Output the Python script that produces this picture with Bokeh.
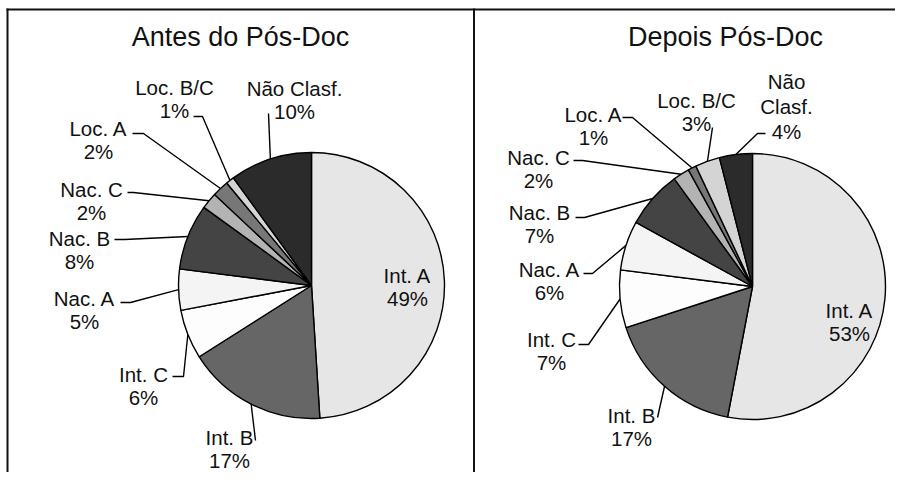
import math
from bokeh.plotting import figure
from bokeh.models import Range1d, ColumnDataSource
from bokeh.core.properties import value
from bokeh.embed import file_html
from bokeh.resources import INLINE

# ---------------- data ----------------
categories = ["Int. A", "Int. B", "Int. C", "Nac. A", "Nac. B", "Nac. C",
              "Loc. A", "Loc. B/C", "Não Clasf."]
antes = [49, 17, 6, 5, 8, 2, 2, 1, 10]
depois = [53, 17, 7, 6, 7, 2, 1, 3, 4]
titles = ["Antes do Pós-Doc", "Depois Pós-Doc"]

# ---------------- styles ----------------
colors = ["#e6e6e6", "#666666", "#fdfdfd", "#f4f4f4", "#444444",
          "#b3b3b3", "#777777", "#d4d4d4", "#2b2b2b"]
FONT = value("Liberation Sans")

# ---------------- layout (picture pixels) ----------------
W, H = 895, 472
OX, OY = 0, 0
R = 133

panels = [
    dict(values=antes, title=titles[0], cx=311, cy=285, tx=240, ty=36,
         wrap=set(),
         label_pos=[(407, 275), (229, 437), (143, 374), (84, 298), (79, 238),
                    (91, 189), (98, 128), (174, 87), (294, 88)],
         leaders=[None, [(255, 440)], [(172, 376), (183, 376)],
                  [(120, 302), (130, 302)], [(114, 239), (124, 239)],
                  [(127, 192), (133, 192)], [(132, 133), (143, 133)],
                  [(193, 116), (202, 116)], [(268, 113)]]),
    dict(values=depois, title=titles[1], cx=752, cy=286, tx=725, ty=36,
         wrap={"Não Clasf."},
         label_pos=[(849, 310), (631, 415), (551, 339), (549, 269), (539, 212),
                    (538, 157), (593, 114), (696, 100), (786, 81)],
         leaders=[None, [(657, 417)], [(578, 344), (588, 344)],
                  [(583, 273), (592, 273)], [(575, 217), (584, 217)],
                  [(573, 160), (582, 160)], [(622, 117), (632, 117)],
                  [(712, 127)], [(765, 133), (757, 133)]]),
]
LINE_GAP = 23

p = figure(width=W, height=H, x_range=Range1d(OX, OX + W),
           y_range=Range1d(-(OY + H), -OY), output_backend="svg",
           toolbar_location=None, min_border=0,
           x_axis_type=None, y_axis_type=None)
p.outline_line_color = None
p.background_fill_color = "white"
p.border_fill_color = "white"

# frame lines
p.segment(x0=[6, 7, 473.5], y0=[-9, -8, -8], x1=[903, 7, 473.5], y1=[-9, -480, -480],
          line_color="#111111", line_width=2)

for pn in panels:
    vals = pn["values"]
    tot = float(sum(vals))
    cx, cy = pn["cx"], pn["cy"]
    starts, ends, mids = [], [], []
    c = 0.0
    for v in vals:
        c0, c1 = c / tot, (c + v) / tot
        starts.append(math.radians(90 - 360 * c1))
        ends.append(math.radians(90 - 360 * c0))
        mids.append(math.radians(360 * (c0 + c1) / 2))
        c += v

    # leader lines
    lx, ly = [], []
    for i, pts in enumerate(pn["leaders"]):
        if pts is None:
            continue
        ex = cx + R * math.sin(mids[i])
        ey = cy - R * math.cos(mids[i])
        xs = [q[0] for q in pts] + [ex]
        ys = [-q[1] for q in pts] + [-ey]
        lx.append(xs)
        ly.append(ys)
    p.multi_line(xs=lx, ys=ly, line_color="black", line_width=1.4)

    src = ColumnDataSource(dict(start=starts, end=ends, color=colors))
    p.wedge(x=cx, y=-cy, radius=R, start_angle="start", end_angle="end",
            fill_color="color", line_color="black", line_width=1.4,
            direction="anticlock", source=src)

    # labels
    tx, ty, tt = [], [], []
    for i, name in enumerate(categories):
        lines = name.split(" ") if name in pn["wrap"] else [name]
        lines = lines + [f"{vals[i]}%"]
        x0, y0 = pn["label_pos"][i]
        gap = 25 if name in pn["wrap"] else LINE_GAP
        for k, s in enumerate(lines):
            tx.append(x0)
            ty.append(-(y0 + k * gap))
            tt.append(s)
    p.text(x=tx, y=ty, text=tt, text_font=FONT, text_font_size="20.5px",
           text_align="center", text_baseline="middle", text_color="#111111")

    p.text(x=[pn["tx"]], y=[-pn["ty"]], text=[pn["title"]], text_font=FONT,
           text_font_size="27px", text_align="center", text_baseline="middle",
           text_color="#111111")

open("out.html", "w").write(file_html(p, INLINE))
